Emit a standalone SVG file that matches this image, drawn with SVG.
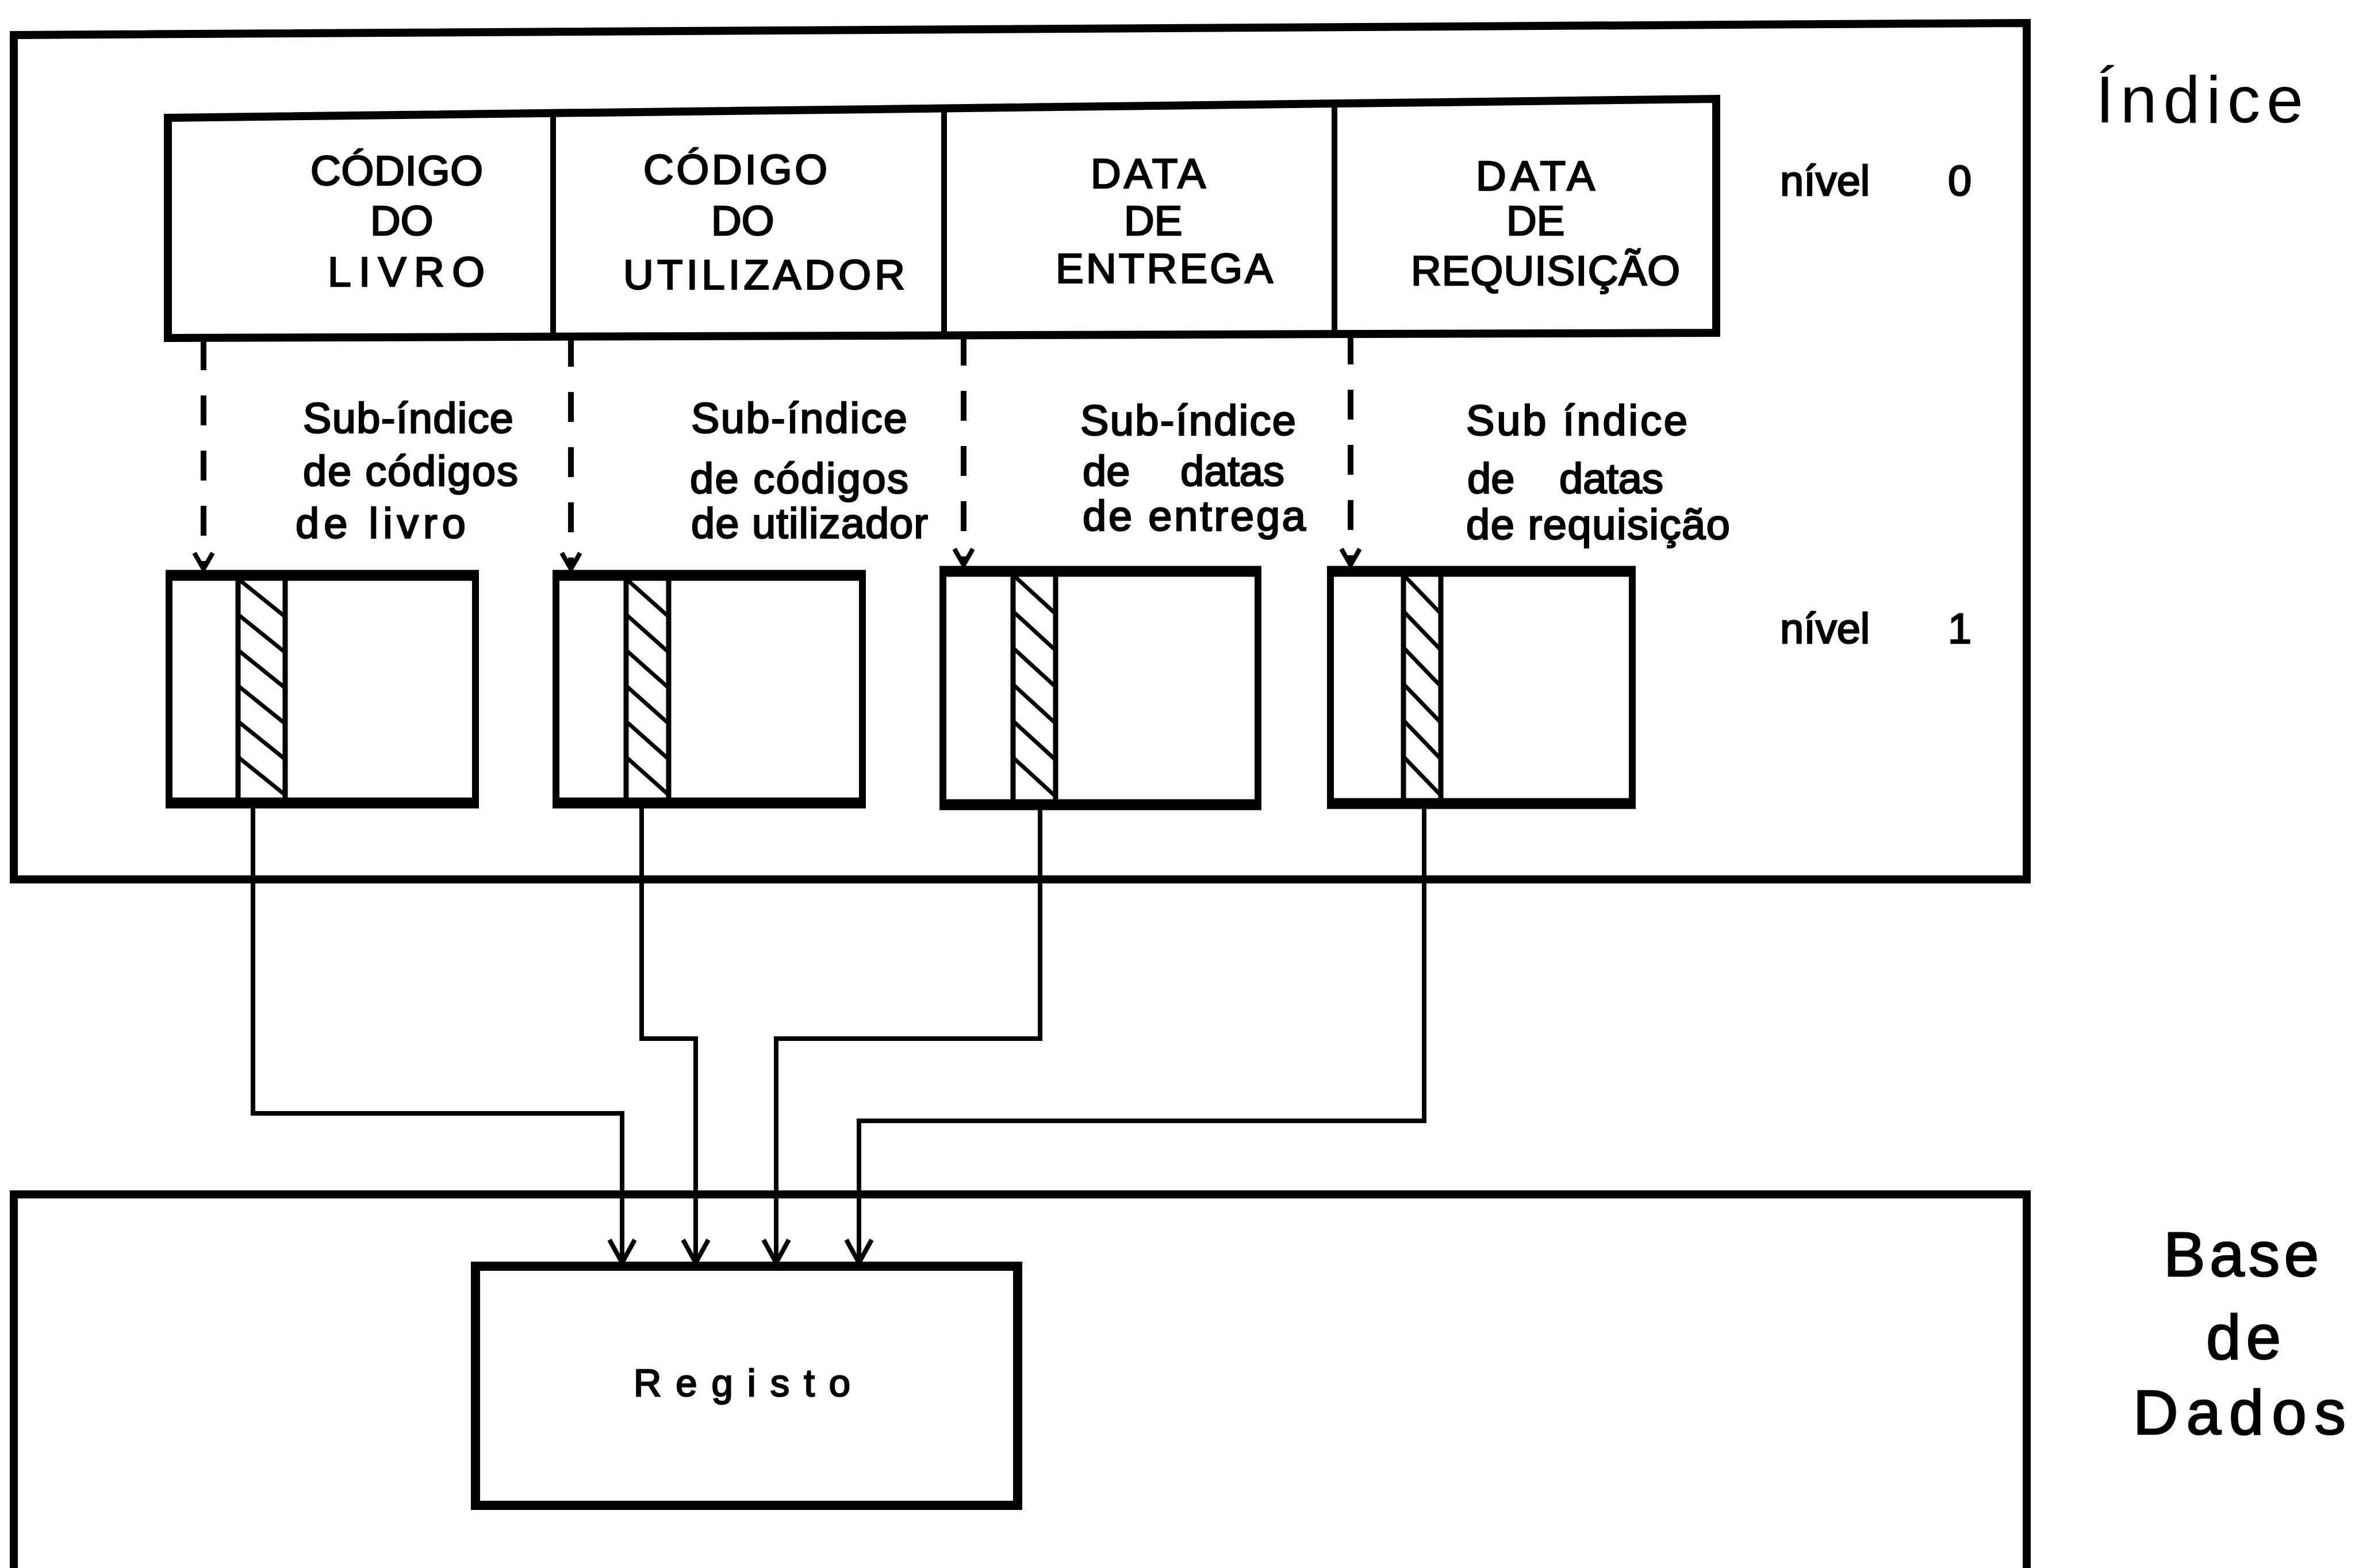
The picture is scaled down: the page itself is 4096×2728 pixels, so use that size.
<svg xmlns="http://www.w3.org/2000/svg" xmlns:xlink="http://www.w3.org/1999/xlink" width="4096" height="2728" viewBox="0 0 4096 2728">
<style>
.frame{fill:none;stroke:#000;stroke-width:14;stroke-linejoin:miter}
.div{stroke:#000;stroke-width:10}
.l1{fill:none;stroke:#000;stroke-width:12}
.hbar{stroke:#000;stroke-width:19;stroke-linecap:butt}
.strip{stroke:#000;stroke-width:9}
.hl{stroke:#000;stroke-width:7}
.conn{fill:none;stroke:#000;stroke-width:8;stroke-linejoin:miter}
.dash{fill:none;stroke:#000;stroke-width:10;stroke-dasharray:52 44}
.ah{fill:none;stroke:#000;stroke-width:8;stroke-dasharray:none}
text{font-family:'Liberation Sans',Arial,sans-serif;fill:#000}
.t0{font-size:73px;stroke:#000;stroke-width:2.6}
.ts{font-size:74px;stroke:#000;stroke-width:2.6}
.big{font-size:115px}
.bd{font-size:109px;stroke:#000;stroke-width:2.5}
.reg{font-size:67px;stroke:#000;stroke-width:2.5}
</style>
<defs>
<marker id="arr" markerUnits="userSpaceOnUse" markerWidth="60" markerHeight="60" viewBox="-50 -30 60 60" refX="0" refY="0" orient="auto">
<path class="ah" d="M-40,-22 L0,0 L-40,22"/>
</marker>
<marker id="arrs" markerUnits="userSpaceOnUse" markerWidth="50" markerHeight="50" viewBox="-40 -25 50 50" refX="0" refY="0" orient="auto">
<path class="ah" d="M-28,-16 L0,0 L-28,16"/>
</marker>
<symbol id="hatch" viewBox="0 0 80 396" preserveAspectRatio="none">
<line class="hl" vector-effect="non-scaling-stroke" x1="0" y1="6" x2="80" y2="72"/>
<line class="hl" vector-effect="non-scaling-stroke" x1="0" y1="68" x2="80" y2="134"/>
<line class="hl" vector-effect="non-scaling-stroke" x1="0" y1="130" x2="80" y2="196"/>
<line class="hl" vector-effect="non-scaling-stroke" x1="0" y1="192" x2="80" y2="258"/>
<line class="hl" vector-effect="non-scaling-stroke" x1="0" y1="254" x2="80" y2="320"/>
<line class="hl" vector-effect="non-scaling-stroke" x1="0" y1="316" x2="80" y2="382"/>
</symbol>
</defs>
<rect width="4096" height="2728" fill="#fff"/>

<g id="indice">
<path class="frame" d="M24,61 L3525,40 L3525,1530 L24,1530 Z"/>
<text class="big" x="3645" y="213" textLength="361" lengthAdjust="spacing">Índice</text>
<text class="ts"><tspan x="3096" y="340">nível</tspan><tspan x="3388" y="340">0</tspan></text>
<text class="ts"><tspan x="3096" y="1119">nível</tspan><tspan x="3388" y="1119">1</tspan></text>
</g>

<g id="nivel0">
<path class="frame" d="M292,205 L2985,172 L2985,579 L292,588 Z"/>
<line class="div" x1="962" y1="197" x2="962" y2="586"/>
<line class="div" x1="1642" y1="189" x2="1642" y2="584"/>
<line class="div" x1="2321" y1="180" x2="2321" y2="581"/>
</g>

<g id="codigo-livro">
<text class="t0" x="540" y="322" textLength="300" lengthAdjust="spacing">CÓDIGO</text>
<text class="t0" x="644" y="409">DO</text>
<text class="t0" x="570" y="498" textLength="273" lengthAdjust="spacing">LIVRO</text>
</g>
<g id="codigo-utilizador">
<text class="t0" x="1119" y="320" textLength="320" lengthAdjust="spacing">CÓDIGO</text>
<text class="t0" x="1237" y="409">DO</text>
<text class="t0" x="1084" y="503" textLength="490" lengthAdjust="spacing">UTILIZADOR</text>
</g>
<g id="data-entrega">
<text class="t0" x="1897" y="327" textLength="200" lengthAdjust="spacing">DATA</text>
<text class="t0" x="1955" y="409">DE</text>
<text class="t0" x="1836" y="492" textLength="378" lengthAdjust="spacing">ENTREGA</text>
</g>
<g id="data-requisicao">
<text class="t0" x="2567" y="331" textLength="207" lengthAdjust="spacing">DATA</text>
<text class="t0" x="2620" y="409">DE</text>
<text class="t0" x="2454" y="496" textLength="468" lengthAdjust="spacing">REQUISIÇÃO</text>
</g>

<g id="sub-livro">
<text class="ts" x="527" y="753" textLength="366" lengthAdjust="spacing">Sub-índice</text>
<text class="ts" x="527" y="845" textLength="374" lengthAdjust="spacing">de códigos</text>
<text class="ts" x="514" y="936" textLength="296" lengthAdjust="spacing">de livro</text>
<rect class="l1" x="294" y="1001" width="533" height="396"/>
<line class="hbar" x1="288" y1="1001" x2="833" y2="1001"/>
<line class="hbar" x1="288" y1="1397" x2="833" y2="1397"/>
<line class="strip" x1="414" y1="1001" x2="414" y2="1397"/>
<line class="strip" x1="496" y1="1001" x2="496" y2="1397"/>
<use xlink:href="#hatch" x="414" y="1001" width="82" height="396"/>
</g>

<g id="sub-utilizador">
<text class="ts" x="1202" y="753" textLength="376" lengthAdjust="spacing">Sub-índice</text>
<text class="ts" x="1200" y="858" textLength="380" lengthAdjust="spacing">de códigos</text>
<text class="ts" x="1202" y="936" textLength="412" lengthAdjust="spacing">de utilizador</text>
<rect class="l1" x="967" y="1001" width="533" height="396"/>
<line class="hbar" x1="961" y1="1001" x2="1506" y2="1001"/>
<line class="hbar" x1="961" y1="1397" x2="1506" y2="1397"/>
<line class="strip" x1="1089" y1="1001" x2="1089" y2="1397"/>
<line class="strip" x1="1163" y1="1001" x2="1163" y2="1397"/>
<use xlink:href="#hatch" x="1089" y="1001" width="74" height="396"/>
</g>

<g id="sub-entrega">
<text class="ts" x="1879" y="757" textLength="375" lengthAdjust="spacing">Sub-índice</text>
<text class="ts"><tspan x="1883" y="845">de</tspan><tspan x="2053" y="845">datas</tspan></text>
<text class="ts" x="1883" y="923" textLength="388" lengthAdjust="spacing">de entrega</text>
<rect class="l1" x="1640" y="994" width="548" height="406"/>
<line class="hbar" x1="1634" y1="994" x2="2194" y2="994"/>
<line class="hbar" x1="1634" y1="1400" x2="2194" y2="1400"/>
<line class="strip" x1="1762" y1="994" x2="1762" y2="1400"/>
<line class="strip" x1="1836" y1="994" x2="1836" y2="1400"/>
<use xlink:href="#hatch" x="1762" y="994" width="74" height="406"/>
</g>

<g id="sub-requisicao">
<text class="ts" x="2550" y="757" textLength="385" lengthAdjust="spacing">Sub índice</text>
<text class="ts"><tspan x="2552" y="858">de</tspan><tspan x="2712" y="858">datas</tspan></text>
<text class="ts" x="2550" y="938" textLength="459" lengthAdjust="spacing">de requisição</text>
<rect class="l1" x="2314" y="994" width="525" height="404"/>
<line class="hbar" x1="2308" y1="994" x2="2845" y2="994"/>
<line class="hbar" x1="2308" y1="1398" x2="2845" y2="1398"/>
<line class="strip" x1="2441" y1="994" x2="2441" y2="1398"/>
<line class="strip" x1="2506" y1="994" x2="2506" y2="1398"/>
<use xlink:href="#hatch" x="2441" y="994" width="65" height="404"/>
</g>

<g id="base-dados">
<path class="frame" d="M24,2770 L24,2078 L3525,2078 L3525,2770"/>
<text class="bd" x="3763" y="2220" textLength="270" lengthAdjust="spacing">Base</text>
<text class="bd" x="3837" y="2364" textLength="130" lengthAdjust="spacing">de</text>
<text class="bd" x="3710" y="2495" textLength="370" lengthAdjust="spacing">Dados</text>
</g>

<g id="registo">
<rect class="frame" x="827" y="2203" width="943" height="416" style="stroke-width:16"/>
<text class="reg" x="1102" y="2429" textLength="377" lengthAdjust="spacing">Registo</text>
</g>

<g id="connectors">
<path class="dash" d="M354,592 V990" marker-end="url(#arrs)"/>
<path class="dash" d="M993,586 V990" marker-end="url(#arrs)"/>
<path class="dash" d="M1676,584 V983" marker-end="url(#arrs)"/>
<path class="dash" d="M2349,582 V983" marker-end="url(#arrs)"/>
<path class="conn" d="M440,1397 V1937 H1082 V2197" marker-end="url(#arr)"/>
<path class="conn" d="M1116,1397 V1807 H1210 V2197" marker-end="url(#arr)"/>
<path class="conn" d="M1809,1400 V1807 H1350 V2197" marker-end="url(#arr)"/>
<path class="conn" d="M2477,1398 V1950 H1494 V2197" marker-end="url(#arr)"/>
</g>
</svg>
